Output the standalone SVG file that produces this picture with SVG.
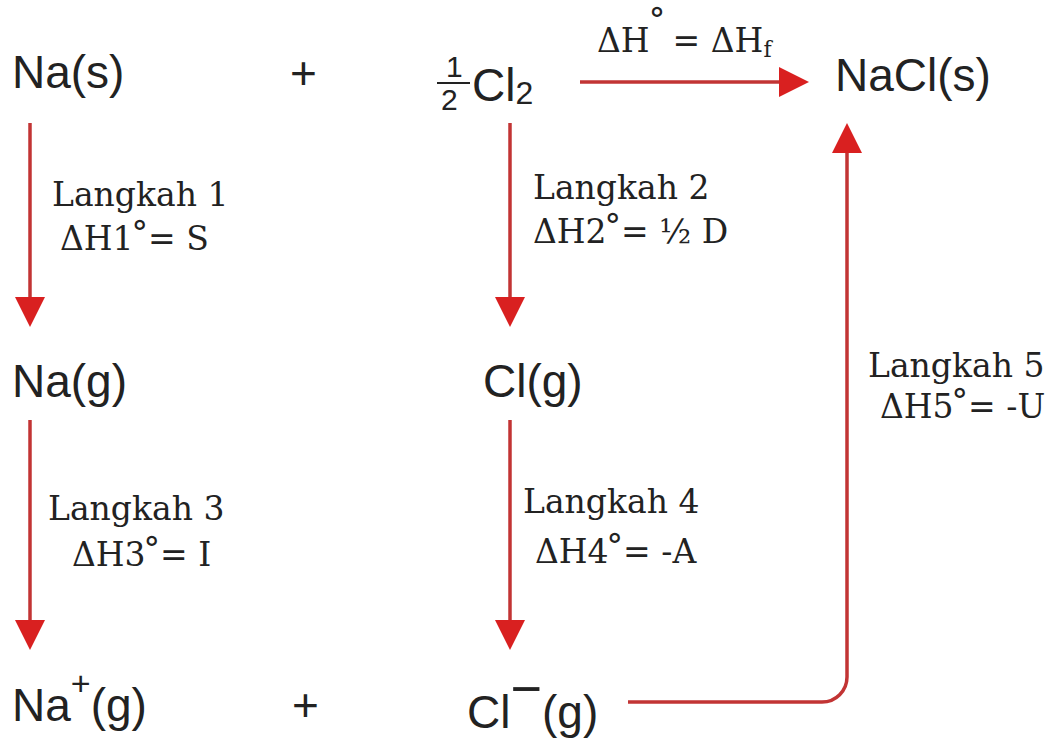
<svg xmlns="http://www.w3.org/2000/svg" width="1057" height="742" viewBox="0 0 1057 742">
<defs>
<style>
.m{font-family:"Liberation Sans",Arial,sans-serif;font-size:46px;fill:#222}
.f{font-family:"Liberation Sans",Arial,sans-serif;font-size:30px;fill:#222}
.s{font-family:"DejaVu Serif","Liberation Serif",serif;font-size:33px;fill:#222}
.c{fill:none;stroke:#c23434;stroke-width:3.5}
</style>
<marker id="ah" viewBox="0 0 30 30" markerWidth="30" markerHeight="30" refX="0" refY="15" orient="auto" markerUnits="userSpaceOnUse">
<path d="M0,0 L30,15 L0,30 Z" fill="#d92020"/>
</marker>
</defs>
<rect width="1057" height="742" fill="#fff"/>
<g id="nodes">
<g id="na-s"><text class="m" x="12" y="88">Na(s)</text></g>
<g id="plus-top"><text class="m" x="290" y="89">+</text></g>
<g id="half-cl2">
<text class="f" x="446" y="77">1</text>
<line x1="437" y1="83" x2="470" y2="83" stroke="#222" stroke-width="2"/>
<text class="f" x="441" y="110">2</text>
<text class="m" x="472" y="101">Cl<tspan font-size="32" dy="3">2</tspan></text>
</g>
<g id="nacl-s"><text class="m" x="835" y="91">NaCl(s)</text></g>
<g id="na-g"><text class="m" x="12" y="397">Na(g)</text></g>
<g id="cl-g"><text class="m" x="483" y="397">Cl(g)</text></g>
<g id="na-plus-g"><text class="m" x="12" y="721">Na<tspan font-size="34" dy="-26">+</tspan><tspan dy="26">(g)</tspan></text></g>
<g id="plus-bottom"><text class="m" x="292" y="721">+</text></g>
<g id="cl-minus-g"><text class="m" x="467" y="728">Cl<tspan font-size="54" dy="-21">−</tspan><tspan dy="21">(g)</tspan></text></g>
</g>
<g id="connectors">
<line class="c" x1="580" y1="82" x2="779" y2="82" stroke-width="5" marker-end="url(#ah)"/>
<line class="c" x1="30" y1="123" x2="30" y2="297" marker-end="url(#ah)"/>
<line class="c" x1="510" y1="123" x2="510" y2="297" marker-end="url(#ah)"/>
<line class="c" x1="30" y1="420" x2="30" y2="620" marker-end="url(#ah)"/>
<line class="c" x1="510" y1="420" x2="510" y2="620" marker-end="url(#ah)"/>
<path class="c" d="M628,702 H822 A25,25 0 0 0 847,677 V153" marker-end="url(#ah)"/>
</g>
<g id="labels">
<text class="s" x="597" y="52">ΔH<tspan dx="-1" dy="-20">°</tspan><tspan dx="-3" dy="20"> = ΔH</tspan><tspan font-size="22" dy="5">f</tspan></text>
<text class="s" x="52" y="206">Langkah 1</text>
<text class="s" x="60" y="250">ΔH1<tspan dx="-2" dy="-5">°</tspan><tspan dy="5">= S</tspan></text>
<text class="s" x="533" y="199">Langkah 2</text>
<text class="s" x="533" y="243">ΔH2<tspan dx="-2" dy="-5">°</tspan><tspan dy="5">= ½ D</tspan></text>
<text class="s" x="48" y="520">Langkah 3</text>
<text class="s" x="72" y="566">ΔH3<tspan dx="-2" dy="-5">°</tspan><tspan dy="5">= I</tspan></text>
<text class="s" x="523" y="513">Langkah 4</text>
<text class="s" x="535" y="563">ΔH4<tspan dx="-2" dy="-5">°</tspan><tspan dy="5">= -A</tspan></text>
<text class="s" x="868" y="377">Langkah 5</text>
<text class="s" x="880" y="418">ΔH5<tspan dx="-2" dy="-5">°</tspan><tspan dy="5">= -U</tspan></text>
</g>
</svg>
